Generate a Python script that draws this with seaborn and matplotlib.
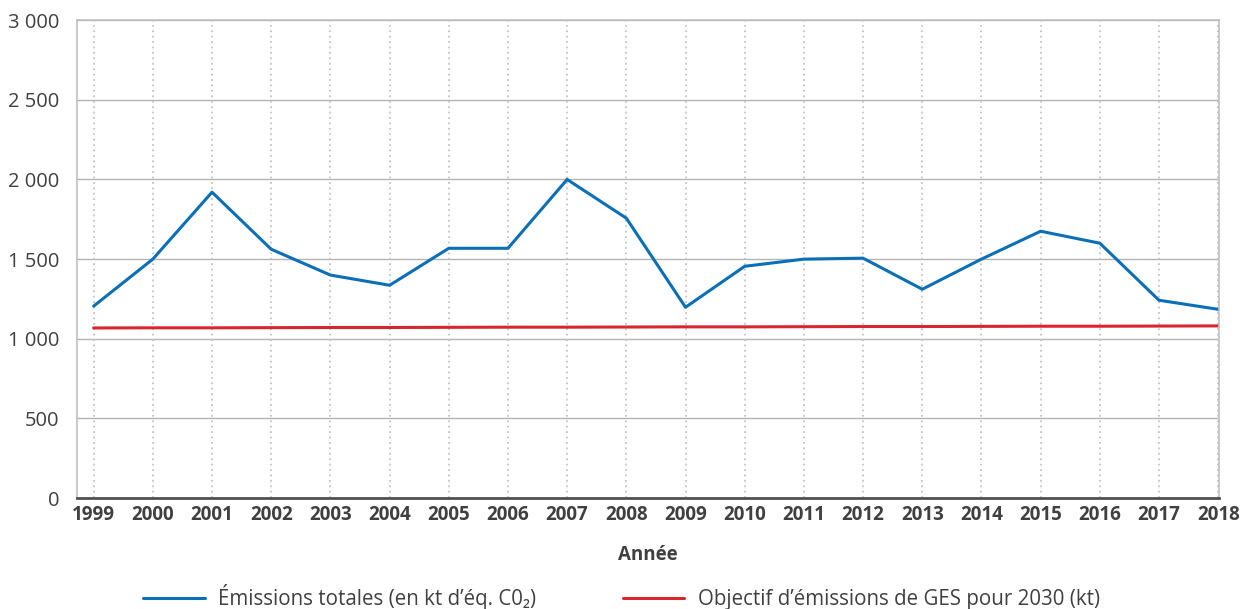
import pandas as pd
import numpy as np
import matplotlib.pyplot as plt
import seaborn as sns

years = list(range(1999, 2019))
emissions = [1205, 1500, 1920, 1562, 1400, 1336, 1568, 1568, 2000, 1757,
             1198, 1455, 1500, 1506, 1311, 1500, 1675, 1600, 1242, 1185]
objectif = [1068, 1069, 1069, 1070, 1071, 1071, 1072, 1073, 1073, 1074,
            1075, 1075, 1076, 1077, 1077, 1078, 1079, 1079, 1080, 1081]
yticks = [0, 500, 1000, 1500, 2000, 2500, 3000]
ytick_labels = ["0", "500", "1 000", "1 500", "2 000", "2 500", "3 000"]
label_em = "Émissions totales (en kt d’éq. C0₂)"
label_obj = "Objectif d’émissions de GES pour 2030 (kt)"

sns.set_style("white")
plt.rcParams['font.family'] = ['Open Sans', 'DejaVu Sans']
txt = "#404040"

df = pd.DataFrame({"Année": years, "em": emissions, "obj": objectif})

fig = plt.figure(figsize=(12.43, 6.09), dpi=100)
ax = fig.add_axes([0.062, 0.182, 0.919, 0.785])

sns.lineplot(data=df, x="Année", y="em", ax=ax, color="#0a6fb7", linewidth=2.2, label=label_em)
sns.lineplot(data=df, x="Année", y="obj", ax=ax, color="#d7262f", linewidth=2.2, label=label_obj)

ax.set_xlim(1998.72, 2018.02)
ax.set_ylim(0, 3000)
ax.set_yticks(yticks)
ax.set_yticklabels(ytick_labels, fontsize=14.5, color=txt)
ax.set_xticks(years)
ax.set_xticklabels([str(y) for y in years], fontsize=13.5, fontweight="bold", color=txt)
ax.tick_params(axis="both", length=0, pad=5)
ax.tick_params(axis="y", pad=13)

for y in yticks[1:]:
    ax.axhline(y, color="#b4b4b4", linewidth=1, zorder=0)
for x in years:
    ax.axvline(x, color="#c4c4c4", linewidth=1.3, linestyle=(0, (1, 2)), zorder=0)

for s in ["left", "right", "top"]:
    ax.spines[s].set_color("#c0c0c0")
    ax.spines[s].set_linewidth(1.2)
ax.spines["bottom"].set_color("#505050")
ax.spines["bottom"].set_linewidth(2)

ax.set_xlabel("Année", fontsize=13.5, fontweight="bold", color=txt, labelpad=14)
ax.set_ylabel("")

ax.get_legend().remove()
h, l = ax.get_legend_handles_labels()
fig.legend(h, l, loc="center", bbox_to_anchor=(0.5, 0.02), ncol=2, frameon=False,
           fontsize=14.8, labelcolor=txt, handlelength=3.0, columnspacing=4.2, handletextpad=0.65)

fig.savefig("out.png", dpi=100)
